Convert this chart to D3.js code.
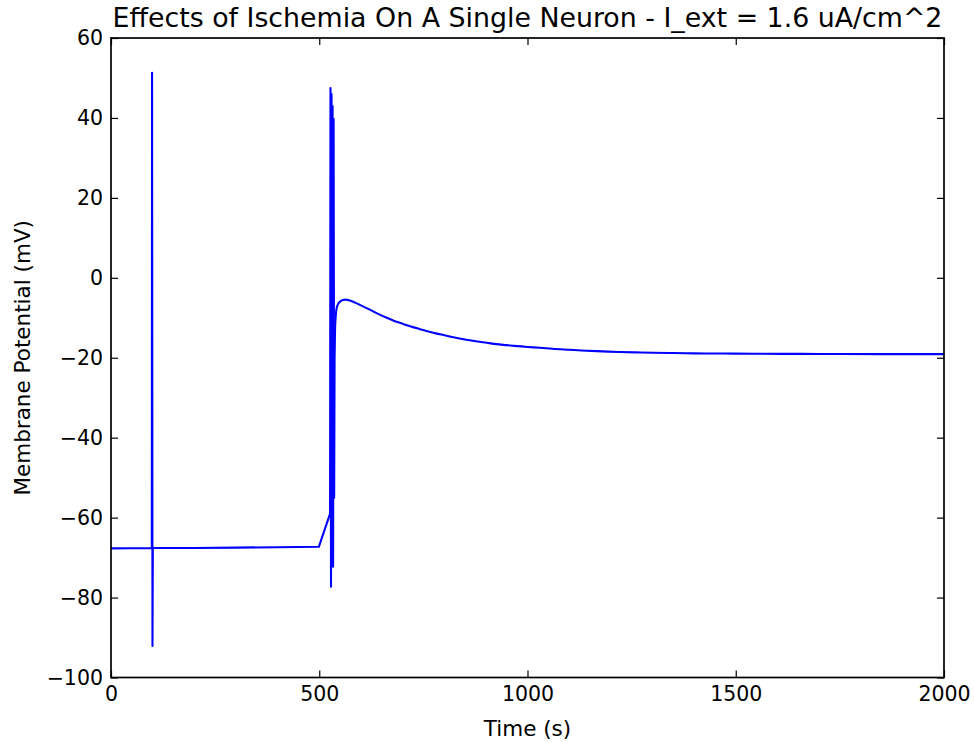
<!DOCTYPE html>
<html>
<head>
<meta charset="utf-8">
<script src="https://cdn.jsdelivr.net/npm/d3@7"></script>
<style>
  html, body { margin: 0; padding: 0; background: #fff; }
  svg { display: block; }
  text { font-family: "DejaVu Sans", sans-serif; fill: #000; }
</style>
</head>
<body>
<svg id="chart" width="974" height="742"></svg>
<script>
// Simulated membrane potential trace (time in s, potential in mV)
const timeS = [
  0, 98, 98.6, 99.6, 100.4, 200, 300, 400, 499,
  526, 527, 528.2, 529.5, 530.8, 532, 533.3, 534.5, 535.8, 536.8, 538,
  540, 542, 546, 552, 562, 575, 590, 605, 620, 640, 662, 680, 700, 720, 742,
  780, 800, 822, 860, 880, 902, 925, 950, 975, 1000, 1030, 1060, 1100, 1142, 1180,
  1220, 1260, 1302, 1350, 1400, 1470, 1542, 1620, 1700, 1850, 2000
];
const potentialMV = [
  -67.7, -67.6, 51.3, -92.1, -67.6, -67.6, -67.5, -67.4, -67.3,
  -59, 47.5, -77.3, 46, -65, 43, -72.3, 39.8, -55, -20, -12.3,
  -9, -7.5, -6.45, -5.8, -5.45, -5.75, -6.4, -7.15, -7.9, -8.95, -10.0, -10.8, -11.5, -12.2, -12.85,
  -13.9, -14.35, -14.85, -15.6, -15.95, -16.25, -16.6, -16.85, -17.1, -17.3, -17.5, -17.75, -18.0, -18.25, -18.4,
  -18.55, -18.65, -18.75, -18.83, -18.9, -18.95, -19.0, -19.03, -19.05, -19.1, -19.1
];
const xTicks = [0, 500, 1000, 1500, 2000];
const yTicks = [-100, -80, -60, -40, -20, 0, 20, 40, 60];

const titleText = "Effects of Ischemia On A Single Neuron - I_ext = 1.6 uA/cm^2";
const xLabel = "Time (s)";
const yLabel = "Membrane Potential (mV)";

const svg = d3.select("#chart");
const plotLeft = 111, plotRight = 944, plotTop = 38, plotBottom = 677.5;

const x = d3.scaleLinear().domain([0, 2000]).range([plotLeft, plotRight]);
const y = d3.scaleLinear().domain([-100, 60]).range([plotBottom, plotTop]);

const points = timeS.map((t, i) => [t, potentialMV[i]]);

// trace: straight segments through the spikes, smooth curve over the slow recovery
svg.append("defs").append("clipPath").attr("id", "plotClip")
  .append("rect").attr("x", plotLeft).attr("y", plotTop)
  .attr("width", plotRight - plotLeft).attr("height", plotBottom - plotTop);

const splitT = 538;
const segments = [
  { data: points.filter(d => d[0] <= splitT), curve: d3.curveLinear },
  { data: points.filter(d => d[0] >= splitT), curve: d3.curveMonotoneX }
];

svg.append("g").attr("clip-path", "url(#plotClip)")
  .selectAll("path").data(segments).join("path")
  .attr("fill", "none")
  .attr("stroke", "#0000ff")
  .attr("stroke-width", 2.1)
  .attr("stroke-linejoin", "round")
  .attr("d", s => d3.line().curve(s.curve).x(d => x(d[0])).y(d => y(d[1]))(s.data));

// axes with inward ticks on all four sides
const tickLen = 7;
function styleAxis(g, showLabels) {
  g.select(".domain").remove();
  g.selectAll(".tick line").attr("stroke", "#000").attr("stroke-width", 1.2);
  if (!showLabels) g.selectAll(".tick text").remove();
  else g.selectAll(".tick text")
        .attr("font-size", "20.5px")
        .attr("font-family", "DejaVu Sans, sans-serif")
        .attr("fill", "#000");
}

svg.append("g").attr("transform", `translate(0,${plotBottom})`)
  .call(d3.axisBottom(x).tickValues(xTicks).tickSizeInner(-tickLen).tickSizeOuter(0)
        .tickPadding(9).tickFormat(d3.format("d")))
  .call(g => styleAxis(g, true));

svg.append("g").attr("transform", `translate(0,${plotTop})`)
  .call(d3.axisTop(x).tickValues(xTicks).tickSizeInner(-tickLen).tickSizeOuter(0))
  .call(g => styleAxis(g, false));

svg.append("g").attr("transform", `translate(${plotLeft},0)`)
  .call(d3.axisLeft(y).tickValues(yTicks).tickSizeInner(-tickLen).tickSizeOuter(0)
        .tickPadding(8).tickFormat(d => d < 0 ? "\u2212" + Math.abs(d) : String(d)))
  .call(g => styleAxis(g, true));

svg.append("g").attr("transform", `translate(${plotRight},0)`)
  .call(d3.axisRight(y).tickValues(yTicks).tickSizeInner(-tickLen).tickSizeOuter(0))
  .call(g => styleAxis(g, false));

// frame
svg.append("rect")
  .attr("x", plotLeft).attr("y", plotTop)
  .attr("width", plotRight - plotLeft).attr("height", plotBottom - plotTop)
  .attr("fill", "none").attr("stroke", "#000").attr("stroke-width", 1.7);

// title and axis labels
svg.append("text")
  .attr("x", (plotLeft + plotRight) / 2).attr("y", 27)
  .attr("text-anchor", "middle").attr("font-size", "26.8px")
  .text(titleText);

svg.append("text")
  .attr("x", (plotLeft + plotRight) / 2).attr("y", 736)
  .attr("text-anchor", "middle").attr("font-size", "21.5px")
  .text(xLabel);

svg.append("text")
  .attr("transform", `translate(30,${(plotTop + plotBottom) / 2}) rotate(-90)`)
  .attr("text-anchor", "middle").attr("font-size", "21.5px")
  .text(yLabel);
</script>
</body>
</html>
